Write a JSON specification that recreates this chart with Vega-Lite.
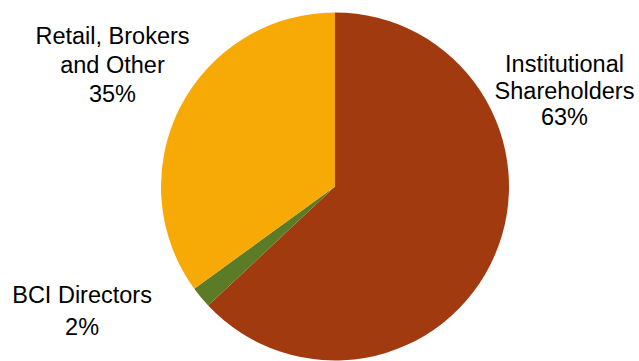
{
  "$schema": "https://vega.github.io/schema/vega-lite/v6.json",
  "autosize": "none",
  "width": 608,
  "height": 349,
  "padding": {"left": 31, "top": 12, "right": 0, "bottom": 0},
  "background": "white",
  "config": {"view": {"stroke": null}},
  "data": {
    "values": [
      {"cat": "Institutional Shareholders", "share": 63, "rank": 1, "label": "Institutional\nShareholders\n63%"},
      {"cat": "BCI Directors", "share": 2, "rank": 2, "label": "BCI Directors\n2%"},
      {"cat": "Retail, Brokers and Other", "share": 35, "rank": 3, "label": "Retail, Brokers\nand Other\n35%"}
    ]
  },
  "encoding": {
    "theta": {"field": "share", "type": "quantitative", "stack": true},
    "order": {"field": "rank", "type": "quantitative"}
  },
  "layer": [
    {
      "mark": {"type": "arc", "outerRadius": 174},
      "encoding": {
        "color": {
          "field": "cat",
          "type": "nominal",
          "scale": {
            "domain": ["Institutional Shareholders", "BCI Directors", "Retail, Brokers and Other"],
            "range": ["#A13B0F", "#5B7B27", "#F7A906"]
          },
          "legend": null
        }
      }
    },
    {
      "mark": {"type": "text", "radius": 253, "dx": -2.7, "dy": -222, "font": "Liberation Sans", "fontSize": 23.5, "lineBreak": "\n", "lineHeight": 26.6, "color": "#000000", "align": "center", "baseline": "middle"},
      "encoding": {
        "text": {"condition": {"test": "datum.cat === 'Institutional Shareholders'", "field": "label"}, "value": ""}
      }
    },
    {
      "mark": {"type": "text", "radius": 253, "dx": -58, "dy": -51.5, "font": "Liberation Sans", "fontSize": 23.5, "lineBreak": "\n", "lineHeight": 31.7, "color": "#000000", "align": "center", "baseline": "middle"},
      "encoding": {
        "text": {"condition": {"test": "datum.cat === 'BCI Directors'", "field": "label"}, "value": ""}
      }
    },
    {
      "mark": {"type": "text", "radius": 253, "dx": 2.9, "dy": -34.5, "font": "Liberation Sans", "fontSize": 23.5, "lineBreak": "\n", "lineHeight": 28.7, "color": "#000000", "align": "center", "baseline": "middle"},
      "encoding": {
        "text": {"condition": {"test": "datum.cat === 'Retail, Brokers and Other'", "field": "label"}, "value": ""}
      }
    }
  ]
}
